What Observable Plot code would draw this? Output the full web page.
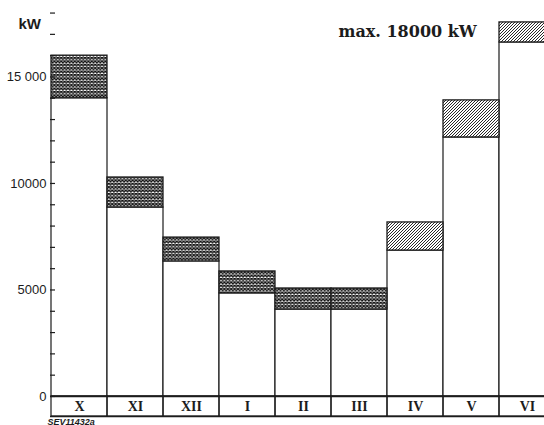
<!DOCTYPE html>
<html><head><meta charset="utf-8">
<script src="https://cdn.jsdelivr.net/npm/d3@7"></script>
<script src="https://cdn.jsdelivr.net/npm/@observablehq/plot@0.6"></script>
<style>body{margin:0;background:#fff;overflow:hidden}</style>
</head><body><div id="chart"></div>
<script>
const months = ["X","XI","XII","I","II","III","IV","V","VI"];
const baseLoad = [14000, 8870, 6340, 4840, 4080, 4080, 6850, 12160, 16620];
const peakLoad = [16000, 10280, 7460, 5870, 5070, 5070, 8170, 13900, 17560];
const hatchKind = ["cross","cross","cross","cross","cross","cross","diag","diag","diag"];
const yTicks = d3.range(0, 18001, 1000);
const yLabels = [0, 5000, 10000, 15000];
const yLabelText = ["0", "5000", "10000", "15 000"];
const titleText = "max. 18000 kW";
const unitText = "kW";
const codeText = "SEV11432a";
const labelRow = -940;
const yTop = 18120;

const data = months.map((m, i) => ({month: m, base: baseLoad[i], peak: peakLoad[i], kind: hatchKind[i]}));
const ink = "#1c1c1c";

const plot = Plot.plot({
  width: 544, height: 425,
  marginLeft: 50, marginRight: -12, marginTop: 10, marginBottom: 9,
  x: {domain: months, padding: 0, axis: null},
  y: {domain: [labelRow, yTop], axis: null},
  style: {background: "white", overflow: "hidden", fontFamily: "Liberation Sans, Arial, sans-serif"},
  marks: [
    Plot.barY(data, {x: "month", y1: 0, y2: "base", fill: "white", stroke: ink, strokeWidth: 1.2}),
    Plot.barY(data, {filter: d => d.kind === "cross", x: "month", y1: "base", y2: "peak", fill: "url(#cross)", stroke: ink, strokeWidth: 1.3}),
    Plot.barY(data, {filter: d => d.kind === "diag", x: "month", y1: "base", y2: "peak", fill: "url(#diag)", stroke: ink, strokeWidth: 1.3}),
    Plot.barY(data, {x: "month", y1: labelRow, y2: 0, fill: "none", stroke: ink, strokeWidth: 1.2}),
    Plot.text(data, {x: "month", y: labelRow / 2, text: "month", fontFamily: "Liberation Serif, serif", fontWeight: "bold", fontSize: 14, fill: ink}),
    Plot.ruleY([0, labelRow], {stroke: ink, strokeWidth: 1.4}),
    Plot.axisY({ticks: yTicks, tickSize: 5, dx: 5, tickFormat: () => "", stroke: ink, strokeWidth: 1.2}),
    Plot.axisY({ticks: yLabels, tickSize: 0, tickPadding: 4, tickFormat: d => yLabelText[yLabels.indexOf(d)], fontSize: 13, fill: ink, line: true, stroke: ink, strokeWidth: 1.4}),
    Plot.text([unitText], {frameAnchor: "top-left", dx: -32, dy: 8, textAnchor: "start", fontSize: 15, fontWeight: "bold", fill: ink}),
    Plot.text([titleText], {frameAnchor: "top-left", dx: 288, dy: 15, textAnchor: "start", fontSize: 16, fontWeight: "bold", fontFamily: "DejaVu Serif, serif", fill: ink}),
    Plot.text([codeText], {frameAnchor: "bottom-left", dx: -3, dy: 8, lineAnchor: "bottom", textAnchor: "start", fontSize: 9, fontWeight: "bold", fontStyle: "italic", fill: ink})
  ]
});

const defs = d3.select(plot).insert("defs", ":first-child");
const cs = 3.4;
const pc = defs.append("pattern").attr("id", "cross").attr("patternUnits", "userSpaceOnUse").attr("width", cs).attr("height", cs);
pc.append("rect").attr("width", cs).attr("height", cs).attr("fill", "white");
pc.append("path").attr("d", `M0,0L${cs},${cs}M${cs},0L0,${cs}`).attr("stroke", "#111").attr("stroke-width", 1.3);
const ds = 3;
const pd = defs.append("pattern").attr("id", "diag").attr("patternUnits", "userSpaceOnUse").attr("width", ds).attr("height", ds);
pd.append("rect").attr("width", ds).attr("height", ds).attr("fill", "white");
pd.append("path").attr("d", `M-1,1L1,-1M0,${ds}L${ds},0M${ds-1},${ds+1}L${ds+1},${ds-1}`).attr("stroke", "#111").attr("stroke-width", 0.9);

document.getElementById("chart").appendChild(plot);
</script></body></html>
